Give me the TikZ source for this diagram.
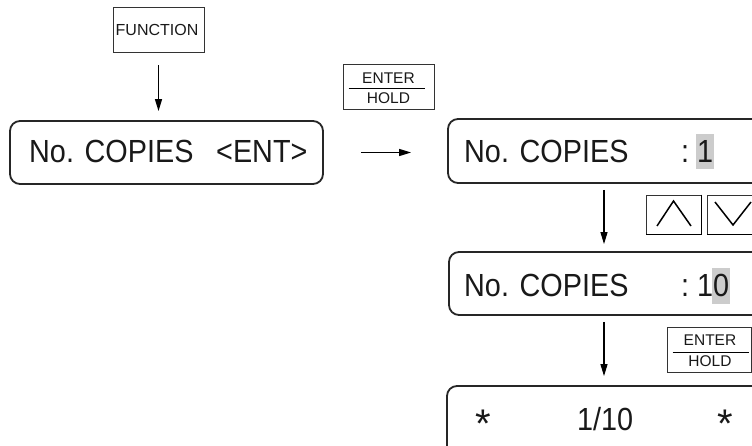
\documentclass[tikz,border=0pt]{standalone}
\usepackage{fontspec}
\setmainfont{Liberation Sans}
\newfontfamily\dispfont[FakeStretch=0.9]{Liberation Sans}
\usetikzlibrary{arrows.meta,calc}
\begin{document}
\begin{tikzpicture}[x=1pt,y=-1pt,
 lcd/.style={draw=black!85, line width=1.8pt, rounded corners=10pt, inner sep=0pt},
 keybox/.style={draw=black!80, line width=0.8pt, inner sep=0pt},
 flow/.style={-{Triangle[length=12pt,width=7pt]}, line width=1.2pt},
 disp/.style={font=\dispfont\fontsize{32}{32}\selectfont, anchor=base west, inner sep=0pt, text=black!90},
 star/.style={font=\fontsize{40}{40}\selectfont, anchor=base, inner sep=0pt, text=black!90},
 keytxt/.style={font=\fontsize{15.5}{16}\selectfont, anchor=base, inner sep=0pt, text=black!90},
 hilite/.style={fill=black!20},
 chev/.style={line width=1.5pt, line join=miter}
]
\useasboundingbox (0,0) rectangle (752,446);
\clip (0,0) rectangle (752,446);

% FUNCTION key
\node[keybox, minimum width=91pt, minimum height=45pt] (fn) at (158.5,29.5) {};
\node[keytxt, font=\fontsize{16}{16}\selectfont] (fnt) at (157,35.5) {FUNCTION};

% left display
\node[lcd, minimum width=313pt, minimum height=63pt] (d0) at (166.5,152.5) {};
\node[disp] (d0a) at (29,163) {No. COPIES};
\node[disp] (d0b) at (216,163) {<ENT>};

% ENTER/HOLD key 1
\node[keybox, minimum width=91pt, minimum height=45pt] (eh1) at (388.5,86.5) {};
\draw[line width=0.8pt] ($(eh1.west)+(6,1.5)$) coordinate (eh1l) -- ($(eh1.east)+(-9,1.5)$) coordinate (eh1r);
\node[keytxt] (eh1a) at (388.5,83.5) {ENTER};
\node[keytxt] (eh1b) at (388.5,103.5) {HOLD};

% display 1
\node[lcd, minimum width=352pt, minimum height=64pt] (d1) at (624,151) {};
\fill[hilite] (696,134) rectangle (714,169);
\node[disp] (d1a) at (464,163) {No. COPIES};
\node[disp] (d1b) at (681,163) {:};
\node[disp] (d1c) at (697,163) {1};

% up / down keys
\node[keybox, minimum width=55pt, minimum height=39pt] (up) at (673.5,214.5) {};
\draw[line width=1.6pt] (up.north east) -- (up.south east) -- (up.south west);
\draw[chev] (657,226) -- (673.5,201) -- (691,226);
\node[keybox, minimum width=55pt, minimum height=39pt] (dn) at (734.5,214.5) {};
\draw[line width=1.6pt] (dn.north east) -- (dn.south east) -- (dn.south west);
\draw[chev] (715,202) -- (733,225) -- (751,202);

% display 2
\node[lcd, minimum width=352pt, minimum height=63pt] (d2) at (625,283.5) {};
\fill[hilite] (712,268) rectangle (730,304);
\node[disp] (d2a) at (464,297) {No. COPIES};
\node[disp] (d2b) at (681,297) {:};
\node[disp] (d2c) at (697,297) {10};

% ENTER/HOLD key 2
\node[keybox, minimum width=84pt, minimum height=45pt] (eh2) at (709,350) {};
\draw[line width=0.8pt] ($(eh2.west)+(6,2)$) -- ($(eh2.east)+(-2,2)$);
\node[keytxt] (eh2a) at (710,345.5) {ENTER};
\node[keytxt] (eh2b) at (710,366) {HOLD};

% display 3
\node[lcd, minimum width=354pt, minimum height=80pt] (d3) at (624,426) {};
\node[star] (s1) at (483,437) {*};
\node[disp] (d3a) at (577,430) {1/10};
\node[star] (s2) at (725,437) {*};

% connectors
\coordinate (ax) at (604,0);
\draw[flow, shorten <=13pt, shorten >=9pt] (fn.south) -- (fn.south |- d0.north);
\draw[flow, shorten <=37pt, shorten >=36pt] (d0.east) -- (d0.east -| d1.west);
\draw[flow, shorten <=6pt, shorten >=7pt] (d1.south -| ax) -- (d2.north -| ax);
\draw[flow, shorten <=6pt, shorten >=9pt] (d2.south -| ax) -- (d3.north -| ax);
\end{tikzpicture}
\end{document}
